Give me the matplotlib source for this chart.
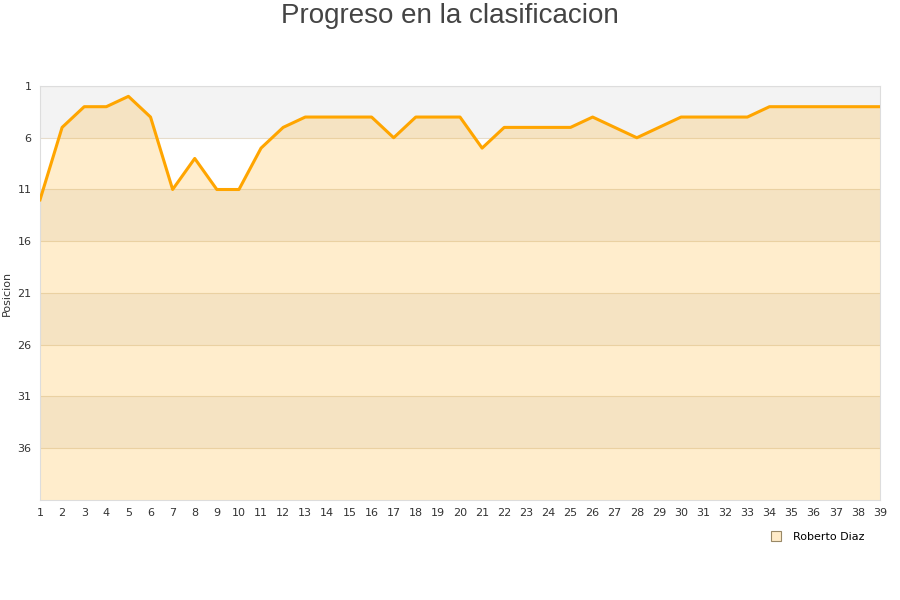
import matplotlib.pyplot as plt

# Posicion por jornada
jornadas = list(range(1, 40))
posicion = [12, 5, 3, 3, 2, 4, 11, 8, 11, 11, 7, 5, 4, 4, 4, 4, 6, 4, 4, 4,
            7, 5, 5, 5, 5, 4, 5, 6, 5, 4, 4, 4, 4, 3, 3, 3, 3, 3, 3]
yticks = [1, 6, 11, 16, 21, 26, 31, 36]
jugador = "Roberto Diaz"

fig = plt.figure(figsize=(9, 6), dpi=100)
ax = fig.add_axes([40 / 900, 100 / 600, 840 / 900, 414 / 600])

ax.set_xlim(1, 39)
ax.set_ylim(41, 1)

# bandas alternas de fondo
for i, t in enumerate(yticks):
    if i % 2 == 0:
        ax.axhspan(t, t + 5, color="#f3f3f3", zorder=0, lw=0)
    ax.axhline(t, color="#e6dccb", lw=0.8, zorder=1)

ax.fill_between(jornadas, posicion, 41, color="#ffa500", alpha=0.2, lw=0, zorder=2)
ax.plot(jornadas, posicion, color="#ffa500", lw=2.2, zorder=3)

ax.set_xticks(jornadas)
ax.set_yticks(yticks)
ax.tick_params(length=0, labelsize=8, colors="#333333", pad=6)
for s in ax.spines.values():
    s.set_color("#dddddd")
ax.set_ylabel("Posicion", fontsize=8, color="#333333", labelpad=4)

fig.text(0.5, 1 - 16 / 600, "Progreso en la clasificacion", fontsize=20,
         color="#444444", family="Liberation Sans", ha="center", va="center")

h = plt.Line2D([], [], marker="s", ls="", markersize=7, markerfacecolor="#ffebc8",
               markeredgecolor="#998866", markeredgewidth=0.8)
fig.legend([h], [jugador], loc="center", bbox_to_anchor=(815 / 900, 1 - 537 / 600),
           frameon=False, fontsize=8, handletextpad=0.5)

fig.savefig("out.png", dpi=100)
